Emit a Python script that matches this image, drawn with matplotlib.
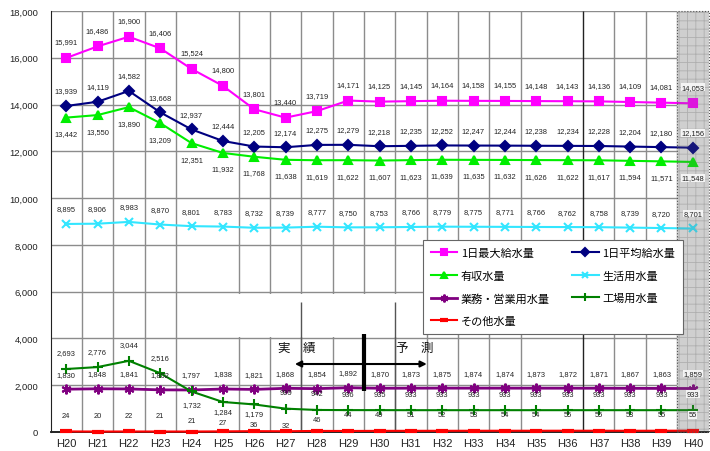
import matplotlib
matplotlib.use("Agg")
import matplotlib.pyplot as plt
from matplotlib.patches import Rectangle
from matplotlib.ticker import FuncFormatter

plt.rcParams["font.family"] = ["Noto Sans CJK JP", "DejaVu Sans"]
plt.rcParams["hatch.linewidth"] = 0.6

# 年度
years = ["H20", "H21", "H22", "H23", "H24", "H25", "H26", "H27", "H28", "H29",
         "H30", "H31", "H32", "H33", "H34", "H35", "H36", "H37", "H38", "H39",
         "H40"]

# 水量 (m3/日)
max_supply = [15991, 16486, 16900, 16406, 15524, 14800, 13801, 13440, 13719,
              14171, 14125, 14145, 14164, 14158, 14155, 14148, 14143, 14136,
              14109, 14081, 14053]
avg_supply = [13939, 14119, 14582, 13668, 12937, 12444, 12205, 12174, 12275,
              12279, 12218, 12235, 12252, 12247, 12244, 12238, 12234, 12228,
              12204, 12180, 12156]
billed = [13442, 13550, 13890, 13209, 12351, 11932, 11768, 11638, 11619,
          11622, 11607, 11623, 11639, 11635, 11632, 11626, 11622, 11617,
          11594, 11571, 11548]
household = [8895, 8906, 8983, 8870, 8801, 8783, 8732, 8739, 8777, 8750,
             8753, 8766, 8779, 8775, 8771, 8766, 8762, 8758, 8739, 8720, 8701]
business = [1830, 1848, 1841, 1802, 1797, 1838, 1821, 1868, 1854, 1892, 1870,
            1873, 1875, 1874, 1874, 1873, 1872, 1871, 1867, 1863, 1859]
factory = [2693, 2776, 3044, 2516, 1732, 1284, 1179, 999, 942, 936, 935, 933,
           933, 933, 933, 933, 933, 933, 933, 933, 933]
other = [24, 20, 22, 21, 21, 27, 36, 32, 46, 44, 49, 51, 52, 53, 54, 54, 55,
         55, 53, 55, 55]

# label offsets in pixels (positive = above the marker)
factory_offsets = [16, 16, 16, 16, -13, -10, -9, 16, 16, 16, 16, 16, 16, 16,
                   16, 16, 16, 16, 16, 16, 16]
other_offsets = [16, 16, 16, 16, 11, 9, 7, 6, 11, 16, 16, 16, 16, 16, 16, 16,
                 16, 16, 16, 16, 16]

fig = plt.figure(figsize=(7.1, 4.52), dpi=100)
ax = fig.add_axes([50.5 / 710, 19 / 452, 658 / 710, 421 / 452])

x = list(range(len(years)))
n = len(years)

series = [
    ("1日最大給水量", max_supply, "#ff00ff", "s", 6, 1.5, [16] * n),
    ("1日平均給水量", avg_supply, "#000080", "D", 5, 1.5, [15] * n),
    ("有収水量", billed, "#00ee00", "^", 6, 1.5, [-16] * n),
    ("生活用水量", household, "#33e6ff", "x", 6, 1.5, [15] * n),
    ("業務・営業用水量", business, "#800080", (6, 2, 0), 7, 2.0, [15] * n),
    ("工場用水量", factory, "#008000", "+", 7, 1.5, factory_offsets),
    ("その他水量", other, "#ff0000", "_", 8, 1.5, other_offsets),
]

handles = {}
for name, vals, color, marker, ms, lw, offs in series:
    mew = 3 if marker == "_" else 1.5
    line, = ax.plot(x, vals, color=color, marker=marker, markersize=ms,
                    markeredgewidth=mew, linewidth=lw, zorder=4,
                    clip_on=False)
    handles[name] = line
    for i, v in enumerate(vals):
        bbox = None
        if i == n - 1:
            bbox = dict(facecolor="#f4f4f4", edgecolor="none", pad=0.3)
        ax.annotate(f"{v:,}", (i, v), xytext=(0, offs[i]),
                    textcoords="offset pixels", ha="center", va="center",
                    fontsize=5.4, family="Liberation Sans", color="#222222",
                    zorder=7, bbox=bbox)

# axes and grid
ax.set_xlim(-0.5, n - 0.5)
ax.set_ylim(0, 18000)
ax.set_yticks(range(0, 18001, 2000))
ax.yaxis.set_major_formatter(FuncFormatter(lambda v, p: f"{int(v):,}"))
ax.set_xticks(x)
ax.set_xticklabels(years)
ax.tick_params(axis="both", length=0, labelsize=8, pad=4,
               labelcolor="#222222")
ax.tick_params(axis="y", labelsize=6.8, pad=9)
for lab in ax.get_xticklabels() + ax.get_yticklabels():
    lab.set_family("Liberation Sans")

for yv in range(2000, 18001, 2000):
    ax.axhline(yv, color="#8c8c8c", linewidth=1.0, zorder=1)

boundaries = [0.5, 1.5, 2.5, 3.5, 5.5, 6.5, 7.5, 8.5, 9.5, 10.5, 11.5, 12.5,
              13.5, 14.5, 16.5, 17.5, 18.5, 19.5]
for b in boundaries:
    color = "#222222" if b == 16.5 else "#8c8c8c"
    ax.vlines(b, 0, 18000, color=color, linewidth=1.0, zorder=1)

# blank band behind the 実績/予測 captions
ax.add_patch(Rectangle((5.0, 4080), 6.3, 1840, facecolor="white",
                       edgecolor="none", zorder=1.5))
ax.vlines([7.5, 10.5], 0, 5560, color="#555555", linewidth=1.0, zorder=2)
ax.vlines(9.5, 1750, 4190, color="black", linewidth=3.0, zorder=6)

ax.annotate("", xy=(7.3, 2907), xytext=(11.51, 2907),
            arrowprops=dict(arrowstyle="<|-|>", color="black", lw=1.5,
                            shrinkA=0, shrinkB=0, mutation_scale=9),
            zorder=6)
ax.text(7.37, 3634, "実\u3000績", ha="center", va="center", fontsize=9,
        color="#111111", zorder=6)
ax.text(11.13, 3634, "予\u3000測", ha="center", va="center", fontsize=9,
        color="#111111", zorder=6)

# shaded final year column: texture under the lines, grey veil over them
ax.add_patch(Rectangle((19.5, 0), 1.0, 18000, facecolor="#ededed",
                       hatch="++", edgecolor="#c4c4c4", linewidth=0,
                       zorder=1.2, clip_on=False))
ax.add_patch(Rectangle((19.5, 0), 1.0, 18000,
                       facecolor=(0.4, 0.4, 0.4, 0.22), edgecolor="none",
                       zorder=5, clip_on=False))
ax.add_patch(Rectangle((19.5, 0), 1.0, 18000, fill=False,
                       edgecolor="#555555", linestyle=":", linewidth=0.8,
                       zorder=5, clip_on=False))

for side in ("top", "right"):
    ax.spines[side].set_visible(False)
ax.spines["left"].set_color("#222222")
ax.spines["bottom"].set_color("#111111")
ax.spines["bottom"].set_linewidth(1.3)
ax.spines["left"].set_zorder(3)

order = ["1日最大給水量", "有収水量", "業務・営業用水量", "その他水量",
         "1日平均給水量", "生活用水量", "工場用水量"]
leg = ax.legend([handles[k] for k in order], order, ncol=2,
                loc="upper left",
                bbox_to_anchor=((423 - 50.5) / 658, (452 - 241 - 19) / 421),
                borderaxespad=0, fontsize=8, frameon=True, fancybox=False,
                edgecolor="#666666", framealpha=1.0, handlelength=2.4,
                handletextpad=0.3, columnspacing=2.0, labelspacing=1.1,
                borderpad=0.7, markerscale=0.8)
leg.get_frame().set_linewidth(0.8)
leg.set_zorder(8)

fig.savefig("out.png", dpi=100)
